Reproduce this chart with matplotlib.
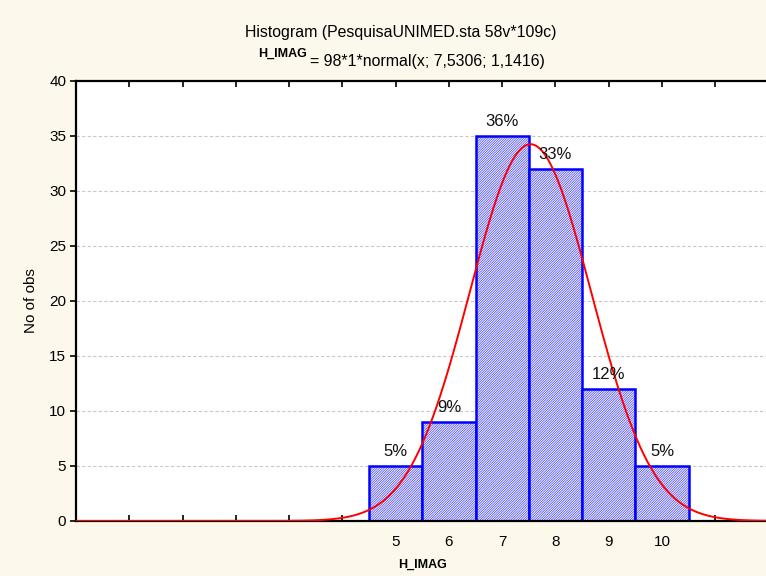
import numpy as np
import matplotlib.pyplot as plt

plt.rcParams['font.family'] = ['Liberation Sans', 'DejaVu Sans']
plt.rcParams['hatch.linewidth'] = 0.35

# histogram data for H_IMAG
scores = [5, 6, 7, 8, 9, 10]
counts = [5, 9, 35, 32, 12, 5]
percents = ['5%', '9%', '36%', '33%', '12%', '5%']
n_obs = 98
mean, sd = 7.5306, 1.1416

fig = plt.figure(figsize=(7.66, 5.76), dpi=100, facecolor='#fdf8ec')
ax = fig.add_axes([0.0992, 0.0955, 0.9042, 0.7640])
ax.set_facecolor('white')

# dashed grid behind bars
for y in range(5, 40, 5):
    ax.axhline(y, color='#c8c8c8', lw=0.8, ls=(0, (3, 2)), zorder=0)

ax.bar(scores, counts, width=1.0, facecolor='#f4f4ff', edgecolor='#0000ff',
       lw=1.8, hatch='/' * 14, zorder=2)

for x, c, p in zip(scores, counts, percents):
    ax.text(x, c + 0.6, p, ha='center', va='bottom', fontsize=12,
            color='#111111', zorder=4)

# fitted normal curve
xs = np.linspace(-1, 12, 600)
ys = n_obs * 1 * np.exp(-0.5 * ((xs - mean) / sd) ** 2) / (sd * np.sqrt(2 * np.pi))
ax.plot(xs, ys, color='#ff0000', lw=1.4, zorder=3)

ax.set_xlim(-1, 12)
ax.set_ylim(0, 40)
ax.set_xticks(range(-1, 13))
ax.set_xticklabels([str(v) if v in scores else '' for v in range(-1, 13)])
ax.set_yticks(range(0, 45, 5))
ax.tick_params(axis='x', direction='in', length=4, width=1.2, top=True,
               labelsize=11, pad=10)
ax.tick_params(axis='y', direction='out', length=4, width=1.2, right=True,
               labelsize=11, pad=3)
for s in ax.spines.values():
    s.set_linewidth(1.6)
    s.set_color('black')

ax.set_ylabel('No of obs', fontsize=11, labelpad=8)
ax.set_xlabel('H_IMAG', fontsize=9, fontweight='bold', labelpad=7)

fig.text(0.523, 0.943, 'Histogram (PesquisaUNIMED.sta 58v*109c)',
         ha='center', va='center', fontsize=11.4)
fig.text(0.4047, 0.894, '= 98*1*normal(x; 7,5306; 1,1416)',
         ha='left', va='center', fontsize=11.4)
fig.text(0.4008, 0.907, 'H_IMAG', ha='right', va='center', fontsize=9,
         fontweight='bold')

fig.savefig('out.png', dpi=100, facecolor=fig.get_facecolor())
